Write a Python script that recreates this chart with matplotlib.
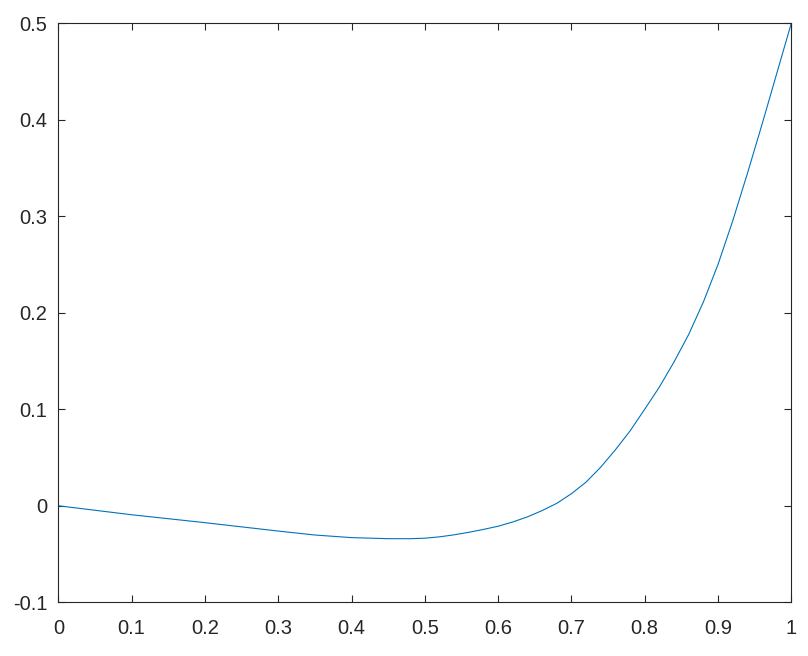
#!/usr/bin/env python3
"""Single curve, Octave-style axes."""

import matplotlib
matplotlib.use("Agg")
import matplotlib.pyplot as plt
import matplotlib.ticker as mticker

# values
X = [0.0, 0.10, 0.20, 0.30, 0.35, 0.40, 0.45, 0.48, 0.50, 0.52, 0.54,
     0.56, 0.58, 0.60, 0.62, 0.64, 0.66, 0.68, 0.70, 0.72, 0.74, 0.76,
     0.78, 0.80, 0.82, 0.84, 0.86, 0.88, 0.90, 0.92, 0.94, 0.96, 0.98, 1.0]
Y = [0.0, -0.0093, -0.0175, -0.0262, -0.0303, -0.0330, -0.0341, -0.0341,
     -0.0336, -0.0322, -0.0301, -0.0275, -0.0245, -0.0212, -0.0168,
     -0.0115, -0.0050, 0.0025, 0.0125, 0.0245, 0.0400, 0.0580, 0.0775,
     0.1000, 0.1230, 0.1490, 0.1775, 0.2110, 0.2500, 0.2950, 0.3440,
     0.3950, 0.4475, 0.5000]

X_TICKS = [0, 0.1, 0.2, 0.3, 0.4, 0.5, 0.6, 0.7, 0.8, 0.9, 1]
Y_TICKS = [-0.1, 0, 0.1, 0.2, 0.3, 0.4, 0.5]


def fmt(v, _pos=None):
    return "%g" % v


plt.rcParams.update({
    "font.family": ["Liberation Sans", "DejaVu Sans"],
    "font.size": 14.5,
})

fig = plt.figure(figsize=(8.08, 6.56), dpi=100)
ax = fig.add_axes([0.0722, 0.0819, 0.9071, 0.8826])

ax.plot(X, Y, color="#0072BD", linewidth=0.8)

ax.set_xlim(0, 1)
ax.set_ylim(-0.1, 0.5)
ax.set_xticks(X_TICKS)
ax.set_yticks(Y_TICKS)
ax.xaxis.set_major_formatter(mticker.FuncFormatter(fmt))
ax.yaxis.set_major_formatter(mticker.FuncFormatter(fmt))
ax.tick_params(axis="both", direction="in", length=5, width=0.8,
               top=True, right=True, labelsize=14.5, color="#262626",
               labelcolor="#262626")
ax.tick_params(axis="x", pad=12)
ax.tick_params(axis="y", pad=8)
for sp in ax.spines.values():
    sp.set_linewidth(0.8)
    sp.set_color("#262626")

fig.savefig("out.png", dpi=100)
